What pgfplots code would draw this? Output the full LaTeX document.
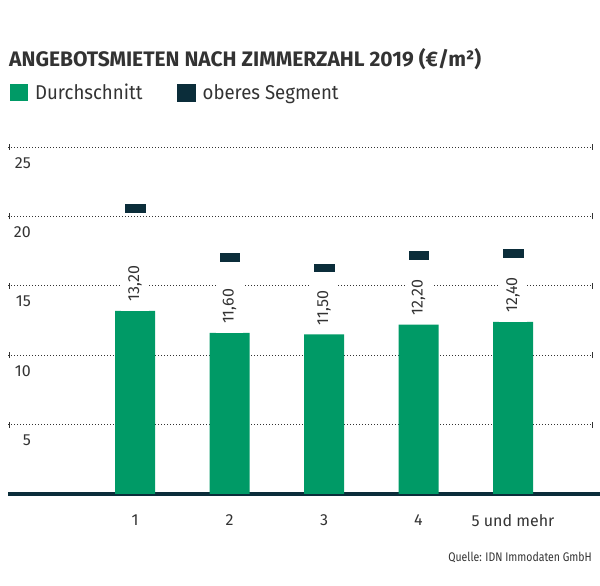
\documentclass[border=0pt]{standalone}
\usepackage{pgfplots}
\pgfplotsset{compat=1.18}
\usepackage{fontspec}
\setmainfont{Fira Sans}
\newfontfamily\condfont{Fira Sans}[FakeStretch=0.93]
\newfontfamily\narrowfont{Fira Sans}[FakeStretch=0.84]
\definecolor{gruen}{HTML}{009A66}
\definecolor{dunkel}{HTML}{0B2D3A}
\definecolor{textc}{HTML}{333333}
\pgfdeclareplotmark{seg}{%
  \pgfpathrectangle{\pgfpoint{-10.75pt}{-4.75pt}}{\pgfpoint{21.5pt}{9.5pt}}%
  \pgfusepathqfillstroke}

\begin{document}
\begin{tikzpicture}
\useasboundingbox (0pt,0pt) rectangle (600pt,586pt);
\node[anchor=base west, inner sep=0pt, text=textc,
  font=\bfseries\fontsize{21}{24}\selectfont] at (9pt,519pt)
  {ANGEBOTSMIETEN NACH ZIMMERZAHL 2019 (€/m²)};
\node[anchor=base east, inner sep=0pt, text=textc,
  font=\narrowfont\fontsize{12.5}{14}\selectfont] at (592pt,24pt)
  {Quelle: IDN Immodaten GmbH};
\begin{axis}[
  at={(8pt,92pt)}, anchor=south west,
  width=584pt, height=347pt, scale only axis,
  xmin=-1.344, xmax=4.836, ymin=0, ymax=25,
  clip=false,
  axis x line*=bottom, axis y line*=left,
  y axis line style={draw=none},
  x axis line style={line width=4pt, dunkel, -, shorten >=-8pt},
  major tick length=0pt,
  xtick={0,1,2,3,4},
  xticklabels={1,2,3,4,5 und mehr},
  ytick={5,10,15,20,25},
  ymajorgrids,
  grid style={textc, line width=0.9pt, dash pattern=on 0.9pt off 2.1pt},
  tick label style={font=\fontsize{16}{19}\selectfont, text=textc},
  /pgf/number format/assume math mode=true,
  yticklabel style={anchor=north east, xshift=23pt, yshift=-10pt, inner sep=0pt},
  xticklabel style={yshift=-17pt},
  legend style={at={(0.0034,1.1874)}, anchor=north west, draw=none, fill=none,
    inner sep=0pt, legend columns=2, text=textc,
    font=\condfont\fontsize{20}{22}\selectfont,
    /tikz/every even column/.append style={column sep=33pt}},
  legend cell align=left,
]
\addplot[ybar, bar width=40pt, fill=gruen, draw=none,
  legend image code/.code={\fill[gruen] (0pt,-8.5pt) rectangle (18pt,8.5pt); \path[draw=none, fill=none] (0pt,0pt) rectangle (23pt,0pt);},
  nodes near coords={\pgfmathprintnumber[fixed, fixed zerofill, precision=2, use comma]{\pgfplotspointmeta}},
  every node near coord/.append style={rotate=90, anchor=west, text=textc, fill=white,
    font=\fontsize{16}{19}\selectfont, inner xsep=9pt, inner ysep=7pt}]
coordinates {(0,13.2) (1,11.6) (2,11.5) (3,12.2) (4,12.4)};
\addlegendentry{Durchschnitt}
\addplot[only marks, mark=seg, mark options={fill=dunkel, draw=white, line width=0.5pt},
  legend image code/.code={\fill[dunkel] (0pt,-8.5pt) rectangle (18pt,8.5pt); \path[draw=none, fill=none] (0pt,0pt) rectangle (23pt,0pt);}]
coordinates {(0,20.6) (1,17.05) (2,16.3) (3,17.2) (4,17.35)};
\addlegendentry{oberes Segment}
\pgfplotsinvokeforeach{5,10,15,20,25}{
  \draw[textc, line width=1pt] (axis cs:-1.344,#1) ++(1pt,-3pt) -- ++(0pt,6pt);
  \draw[textc, line width=1pt] (axis cs:4.836,#1) ++(0pt,-3pt) -- ++(0pt,6pt);
}
\end{axis}
\end{tikzpicture}
\end{document}
